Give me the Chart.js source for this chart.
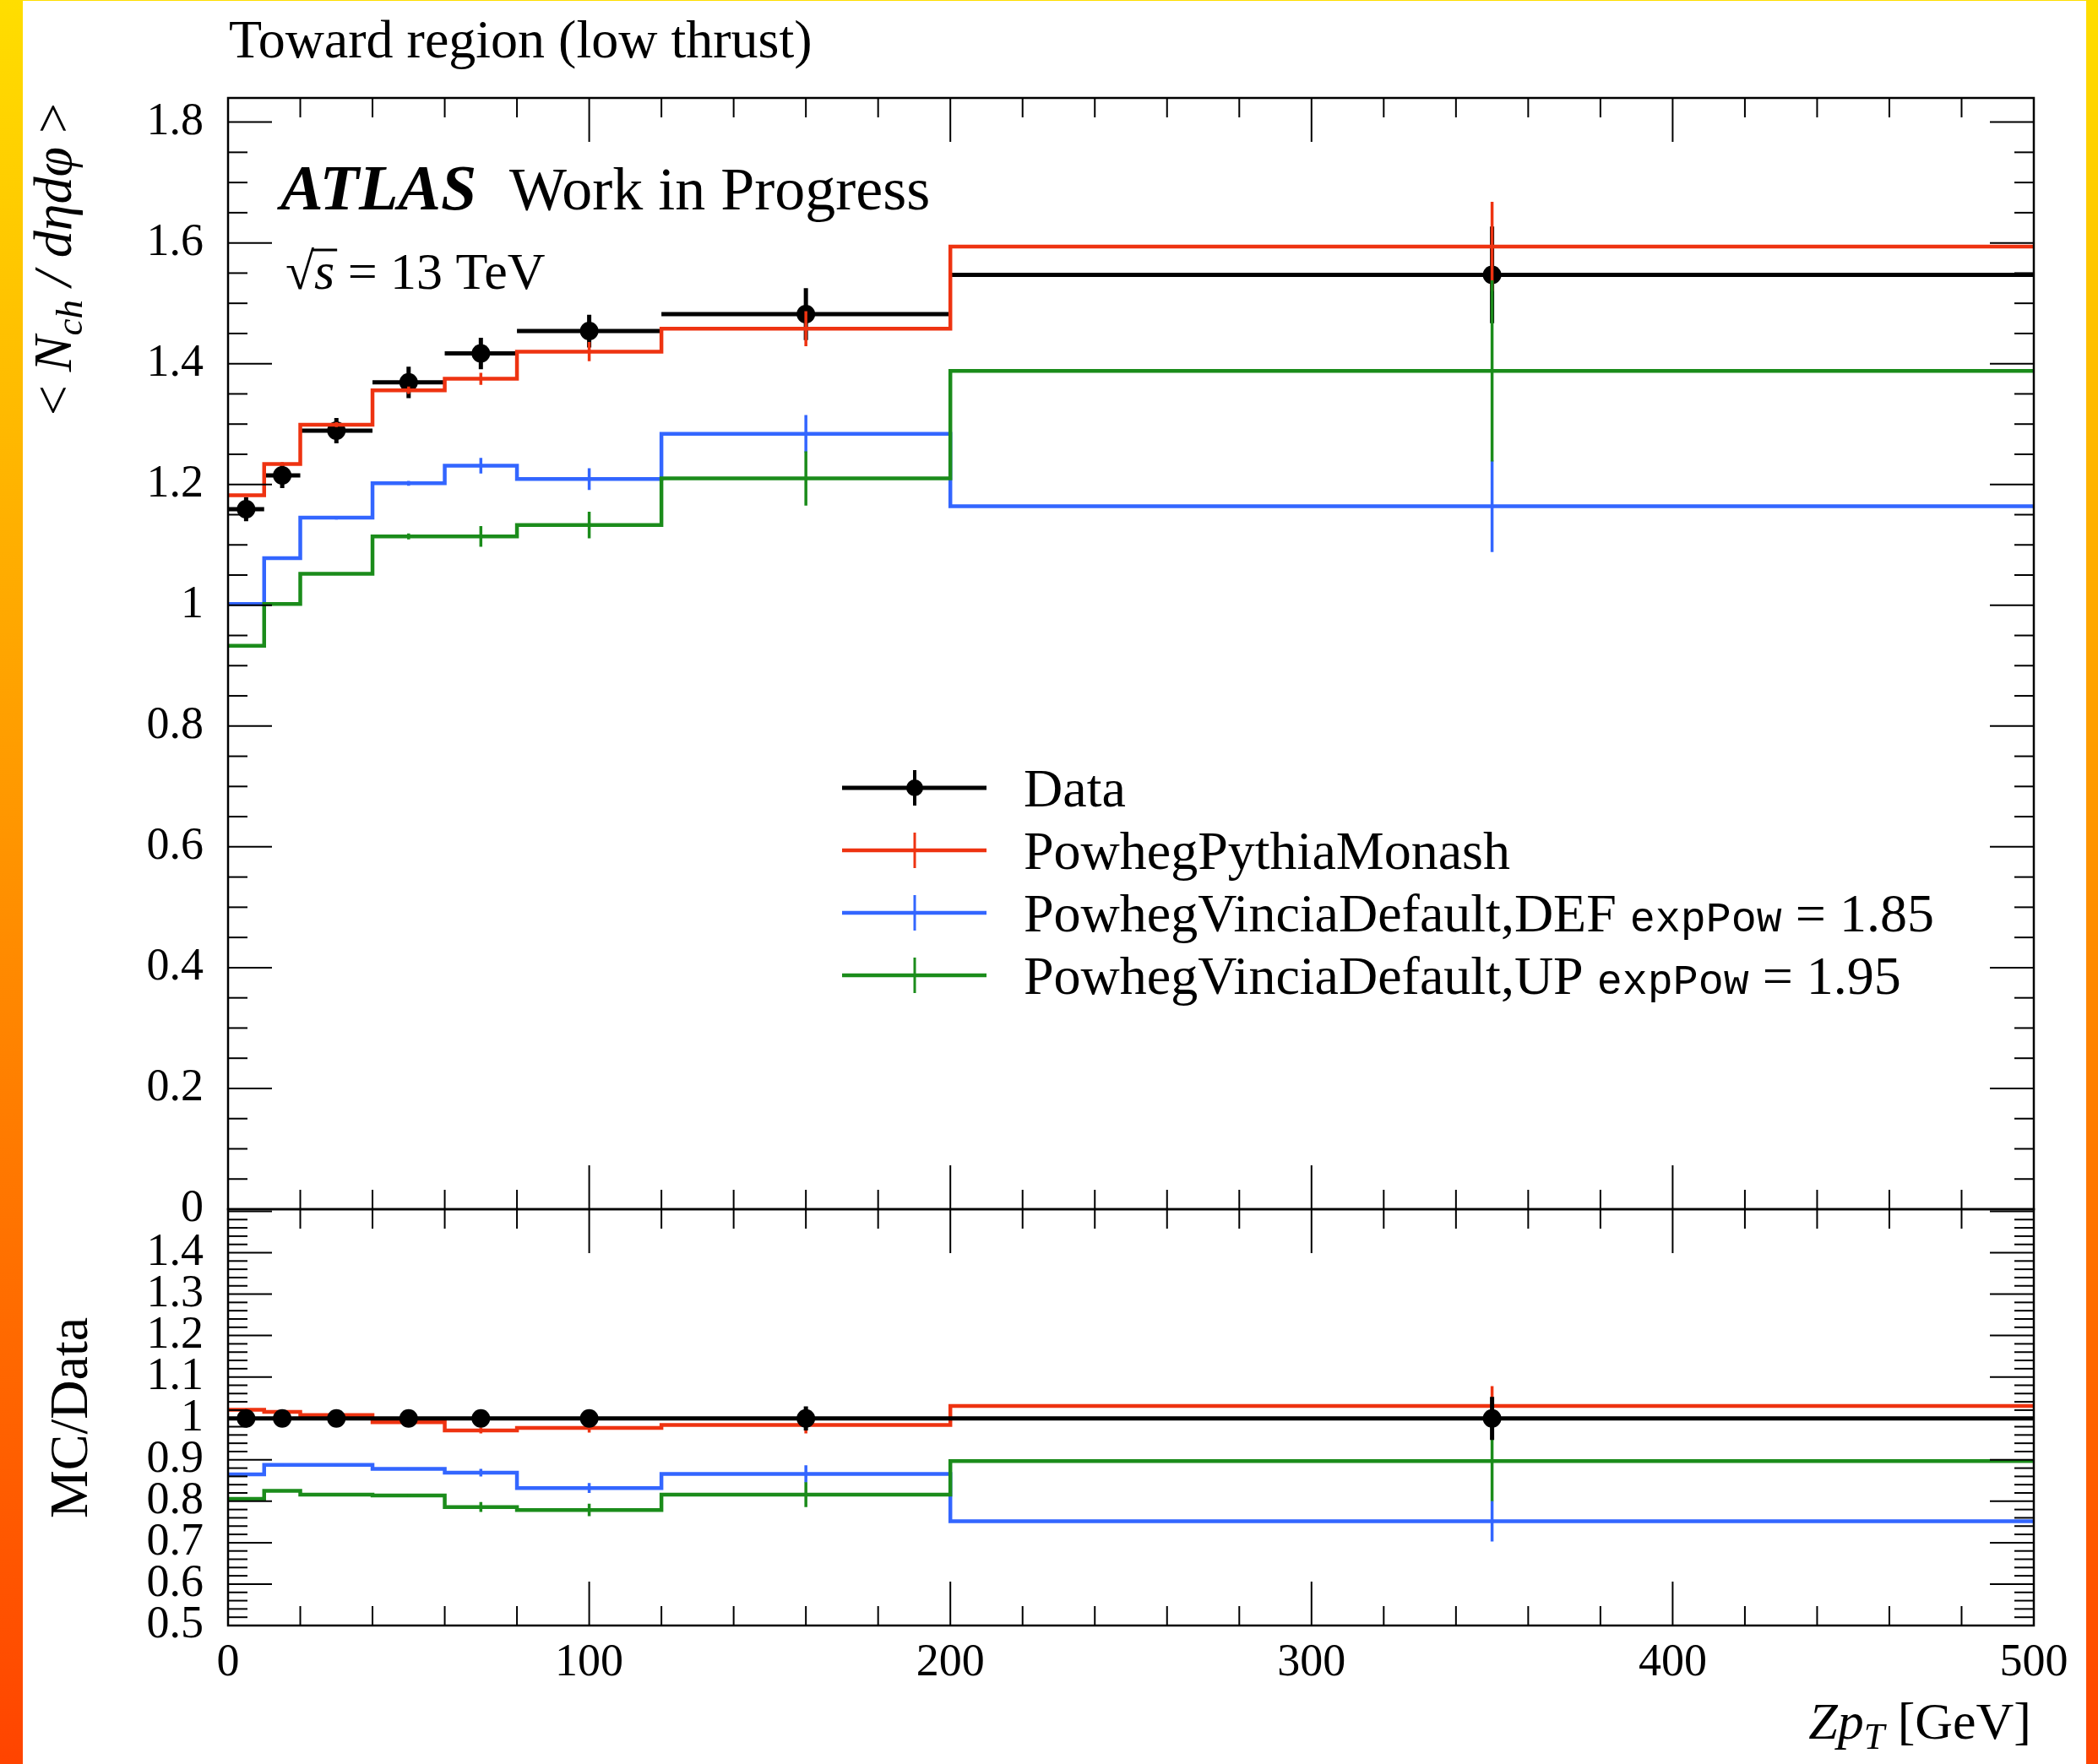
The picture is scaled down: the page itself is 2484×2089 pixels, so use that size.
<!DOCTYPE html>
<html>
<head>
<meta charset="utf-8">
<script src="https://cdn.jsdelivr.net/npm/chart.js@4.4.0/dist/chart.umd.min.js"></script>
<style>
  html, body { margin: 0; padding: 0; }
  #page { position: relative; width: 2484px; height: 2089px; overflow: hidden;
          background: linear-gradient(to bottom, #ffde00, #ff4400); }
  #sheet { position: absolute; left: 27px; top: 1px; width: 2443px; height: 2088px; background: #fff; }
  canvas { position: absolute; left: 0; top: 0; }
</style>
</head>
<body>
<div id="page">
  <div id="sheet"></div>
  <canvas id="main" width="2484" height="2089"></canvas>
  <canvas id="ratio" width="2484" height="2089"></canvas>
</div>
<script>
// bins in Z pT [GeV]
const edges = [0, 10, 20, 40, 60, 80, 120, 200, 500];
const binCenters = [5, 15, 30, 50, 70, 100, 160, 350];

// < Nch / deta dphi >
const dataVals   = [1.159, 1.215, 1.289, 1.369, 1.417, 1.454, 1.482, 1.547];
const dataErr    = [0.020, 0.021, 0.021, 0.026, 0.026, 0.027, 0.043, 0.080];
const monashVals = [1.182, 1.234, 1.299, 1.356, 1.375, 1.420, 1.458, 1.594];
const monashErr  = [0.002, 0.003, 0.004, 0.006, 0.010, 0.016, 0.029, 0.074];
const defVals    = [1.002, 1.078, 1.145, 1.202, 1.231, 1.209, 1.284, 1.164];
const defErr     = [0.002, 0.002, 0.003, 0.004, 0.013, 0.018, 0.031, 0.076];
const upVals     = [0.933, 1.002, 1.052, 1.114, 1.114, 1.133, 1.210, 1.388];
const upErr      = [0.001, 0.002, 0.002, 0.005, 0.017, 0.022, 0.045, 0.150];

// MC / Data
const dataRatio      = [1, 1, 1, 1, 1, 1, 1, 1];
const dataRatioErr   = [0.017, 0.017, 0.016, 0.019, 0.018, 0.019, 0.029, 0.052];
const monashRatio    = [1.021, 1.016, 1.008, 0.991, 0.971, 0.977, 0.984, 1.030];
const monashRatioErr = [0.002, 0.002, 0.003, 0.004, 0.007, 0.011, 0.020, 0.048];
const defRatio       = [0.865, 0.888, 0.888, 0.878, 0.869, 0.832, 0.866, 0.752];
const defRatioErr    = [0.002, 0.002, 0.002, 0.003, 0.009, 0.012, 0.021, 0.049];
const upRatio        = [0.806, 0.825, 0.816, 0.814, 0.786, 0.779, 0.816, 0.897];
const upRatioErr     = [0.001, 0.002, 0.002, 0.004, 0.012, 0.015, 0.030, 0.097];

// tick labels
const xTickLabels = ['0', '100', '200', '300', '400', '500'];
const mainYTickLabels = ['0', '0.2', '0.4', '0.6', '0.8', '1', '1.2', '1.4', '1.6', '1.8'];
const ratioYTickLabels = ['0.5', '0.6', '0.7', '0.8', '0.9', '1', '1.1', '1.2', '1.3', '1.4'];

const seriesNames = ['Data', 'PowhegPythiaMonash', 'PowhegVinciaDefault,DEF', 'PowhegVinciaDefault,UP'];
const seriesExpPow = ['', '', '1.85', '1.95'];
const plotTitle = 'Toward region (low thrust)';

const colors = ['#000000', '#ee3311', '#3366ff', '#1b8c1b'];
const SERIF = '"Liberation Serif", "DejaVu Serif", serif';
const MONO = '"Liberation Mono", "DejaVu Sans Mono", monospace';

// histogram outline: flat top over every bin
function stepPts(vals) {
  const pts = [];
  vals.forEach((v, i) => pts.push({ x: edges[i], y: v }, { x: edges[i + 1], y: v }));
  return pts;
}
// data x-error bars: one segment per bin
function hbarPts(vals) {
  const pts = [];
  vals.forEach((v, i) => pts.push({ x: edges[i], y: v }, { x: edges[i + 1], y: v }, { x: edges[i + 1], y: null }));
  return pts;
}
// vertical error bars at bin centres
function errPts(vals, errs) {
  const pts = [];
  vals.forEach((v, i) => pts.push({ x: binCenters[i], y: v - errs[i] }, { x: binCenters[i], y: v + errs[i] }, { x: binCenters[i], y: null }));
  return pts;
}

// dataOnTop: in the ratio panel the data marks sit above the MC lines
function makeDatasets(d, dErr, series, dataOnTop) {
  const base = dataOnTop ? 0 : 7;
  const sets = [
    { data: hbarPts(d), borderColor: colors[0], borderWidth: 5, order: base + 2 },
    { data: errPts(d, dErr), borderColor: colors[0], borderWidth: 5, order: base + 1 },
    { data: binCenters.map((x, i) => ({ x, y: d[i] })), showLine: false, pointRadius: 11,
      pointBackgroundColor: colors[0], pointBorderWidth: 0, order: base }
  ];
  const mcBase = dataOnTop ? 9 : 6;
  series.forEach(([vals, errs], k) => {
    sets.push({ data: stepPts(vals), borderColor: colors[k + 1], borderWidth: 4.5, order: mcBase - 2 * k });
    sets.push({ data: errPts(vals, errs), borderColor: colors[k + 1], borderWidth: 3.5, order: mcBase - 1 - 2 * k });
  });
  return sets;
}

// inward ticks on all four sides plus the frame
const frameTicks = {
  id: 'frameTicks',
  afterDraw(chart, args, opts) {
    const { ctx, chartArea: a, scales: { x, y } } = chart;
    ctx.save();
    ctx.strokeStyle = '#000';
    ctx.lineWidth = 2;
    const seg = (x1, y1, x2, y2) => { ctx.beginPath(); ctx.moveTo(x1, y1); ctx.lineTo(x2, y2); ctx.stroke(); };
    for (let v = 20; v < 500; v += 20) {
      const px = x.getPixelForValue(v);
      const len = v % 100 === 0 ? 52 : 23;
      seg(px, a.top, px, a.top + len);
      seg(px, a.bottom, px, a.bottom - len);
    }
    for (let k = 1; ; k++) {
      const v = opts.yMin + k * opts.minor;
      if (v > y.max - 1e-6) break;
      const py = y.getPixelForValue(v);
      const len = k % opts.every === 0 ? 52 : 23;
      seg(a.left, py, a.left + len, py);
      seg(a.right, py, a.right - len, py);
    }
    ctx.lineWidth = 2.5;
    ctx.strokeRect(a.left, a.top, a.right - a.left, a.bottom - a.top);
    ctx.restore();
  }
};

function runWidth(ctx, runs) {
  let w = 0;
  for (const r of runs) { ctx.font = r.f; w += ctx.measureText(r.t).width; }
  return w;
}
function drawRuns(ctx, runs, x, y) {
  for (const r of runs) {
    ctx.font = r.f;
    ctx.fillText(r.t, x, y + (r.dy || 0));
    x += ctx.measureText(r.t).width;
  }
  return x;
}

const mainText = {
  id: 'mainText',
  afterDraw(chart) {
    const ctx = chart.ctx;
    ctx.save();
    ctx.fillStyle = '#000';
    ctx.textAlign = 'left';
    ctx.textBaseline = 'alphabetic';

    ctx.font = `64px ${SERIF}`;
    ctx.fillText(plotTitle, 271, 68);

    ctx.font = `italic bold 76px ${SERIF}`;
    ctx.fillText('ATLAS', 332, 248);
    ctx.font = `72px ${SERIF}`;
    ctx.fillText('Work in Progress', 603, 248);

    // sqrt(s) = 13 TeV
    ctx.font = `62px ${SERIF}`;
    ctx.fillText('\u221A', 338, 342);
    const xs = 338 + ctx.measureText('\u221A').width;
    ctx.font = `italic 62px ${SERIF}`;
    ctx.fillText('s', xs, 342);
    const sw = ctx.measureText('s').width;
    ctx.lineWidth = 3;
    ctx.beginPath(); ctx.moveTo(xs - 2, 296); ctx.lineTo(xs + sw + 3, 296); ctx.stroke();
    ctx.font = `62px ${SERIF}`;
    ctx.fillText(' = 13 TeV', xs + sw, 342);

    // y-axis title, rotated, top aligned
    const yRuns = [
      { t: '< ', f: `64px ${SERIF}` },
      { t: 'N', f: `italic 64px ${SERIF}` },
      { t: 'ch', f: `italic 45px ${SERIF}`, dy: 13 },
      { t: ' / ', f: `italic 64px ${SERIF}` },
      { t: 'd\u03B7d\u03C6', f: `italic 64px ${SERIF}` },
      { t: ' >', f: `64px ${SERIF}` }
    ];
    ctx.save();
    ctx.translate(84, 122);
    ctx.rotate(-Math.PI / 2);
    drawRuns(ctx, yRuns, -runWidth(ctx, yRuns), 0);
    ctx.restore();

    // legend
    const rows = [933, 1007, 1081, 1155];
    seriesNames.forEach((name, i) => {
      const yy = rows[i];
      ctx.strokeStyle = colors[i];
      ctx.fillStyle = colors[i];
      ctx.lineWidth = i === 0 ? 5 : 4.5;
      ctx.beginPath(); ctx.moveTo(997, yy); ctx.lineTo(1168, yy); ctx.stroke();
      ctx.lineWidth = i === 0 ? 4 : 3;
      ctx.beginPath(); ctx.moveTo(1083, yy - 21); ctx.lineTo(1083, yy + 21); ctx.stroke();
      if (i === 0) { ctx.beginPath(); ctx.arc(1083, yy, 10, 0, 2 * Math.PI); ctx.fill(); }
      ctx.fillStyle = '#000';
      const runs = [{ t: name, f: `64px ${SERIF}` }];
      if (seriesExpPow[i]) {
        runs.push({ t: ' ', f: `64px ${SERIF}` }, { t: 'expPow', f: `50px ${MONO}` },
                  { t: ' = ' + seriesExpPow[i], f: `64px ${SERIF}` });
      }
      drawRuns(ctx, runs, 1212, yy + 22);
    });
    ctx.restore();
  }
};

const ratioText = {
  id: 'ratioText',
  afterDraw(chart) {
    const ctx = chart.ctx;
    ctx.save();
    ctx.fillStyle = '#000';
    ctx.textBaseline = 'alphabetic';
    ctx.save();
    ctx.translate(103, 1679);
    ctx.rotate(-Math.PI / 2);
    ctx.textAlign = 'center';
    ctx.font = `64px ${SERIF}`;
    ctx.fillText('MC/Data', 0, 0);
    ctx.restore();
    ctx.textAlign = 'left';
    const xRuns = [
      { t: 'Zp', f: `italic 62px ${SERIF}` },
      { t: 'T', f: `italic 44px ${SERIF}`, dy: 12 },
      { t: ' [GeV]', f: `62px ${SERIF}` }
    ];
    drawRuns(ctx, xRuns, 2405 - runWidth(ctx, xRuns), 2059);
    ctx.restore();
  }
};

function yScale(min, max, labels) {
  return {
    min, max,
    afterFit: s => { s.width = 270; },
    afterBuildTicks: s => { s.ticks = labels.map(t => ({ value: parseFloat(t) })); },
    grid: { display: false, drawTicks: false },
    border: { display: false },
    ticks: { autoSkip: false, padding: 29, color: '#000', font: { family: SERIF, size: 54 },
             callback: (v, i) => labels[i] }
  };
}

function baseOptions(padding) {
  return {
    responsive: false,
    animation: false,
    events: [],
    layout: { padding },
    elements: { point: { radius: 0 }, line: { tension: 0, fill: false, borderCapStyle: 'butt', borderJoinStyle: 'miter' } },
    plugins: { legend: { display: false }, tooltip: { enabled: false } }
  };
}

const mainOpts = baseOptions({ left: 0, right: 76, top: 116, bottom: 657 });
mainOpts.scales = {
  x: { type: 'linear', min: 0, max: 500, display: false, offset: false },
  y: yScale(0, 1.84, mainYTickLabels)
};
mainOpts.plugins.frameTicks = { yMin: 0, minor: 0.05, every: 4 };

new Chart(document.getElementById('main'), {
  type: 'line',
  data: { datasets: makeDatasets(dataVals, dataErr, [[monashVals, monashErr], [defVals, defErr], [upVals, upErr]], false) },
  options: mainOpts,
  plugins: [frameTicks, mainText]
});

const ratioOpts = baseOptions({ left: 0, right: 76, top: 1432, bottom: 64 });
ratioOpts.scales = {
  x: {
    type: 'linear', min: 0, max: 500, offset: false,
    afterFit: s => { s.height = 100; },
    afterBuildTicks: s => { s.ticks = xTickLabels.map(t => ({ value: parseFloat(t) })); },
    grid: { display: false, drawTicks: false },
    border: { display: false },
    ticks: { autoSkip: false, maxRotation: 0, padding: 12, color: '#000', font: { family: SERIF, size: 54 },
             callback: (v, i) => xTickLabels[i] }
  },
  y: yScale(0.5, 1.505, ratioYTickLabels)
};
ratioOpts.plugins.frameTicks = { yMin: 0.5, minor: 0.02, every: 5 };

new Chart(document.getElementById('ratio'), {
  type: 'line',
  data: { datasets: makeDatasets(dataRatio, dataRatioErr, [[monashRatio, monashRatioErr], [defRatio, defRatioErr], [upRatio, upRatioErr]], true) },
  options: ratioOpts,
  plugins: [frameTicks, ratioText]
});
</script>
</body>
</html>
